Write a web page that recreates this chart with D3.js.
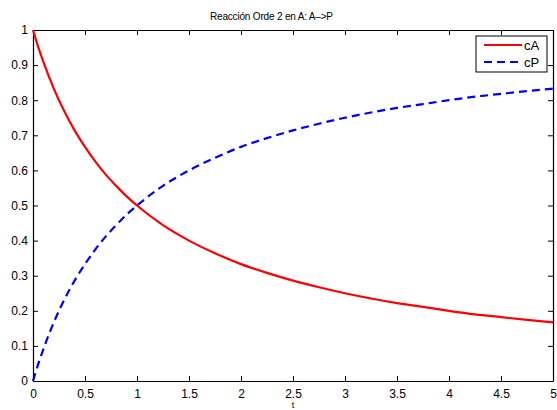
<!DOCTYPE html>
<html>
<head>
<meta charset="utf-8">
<script src="https://cdn.jsdelivr.net/npm/d3@7"></script>
<style>
  body { margin: 0; background: #fff; }
  svg { font-family: 'Liberation Sans', Arial, sans-serif; }
</style>
</head>
<body>
<svg width="557" height="410"></svg>
<script>
const title = 'Reacción Orde 2 en A: A–>P'
const xLabel = 't'
const tValues = [0, 0.05, 0.1, 0.2, 0.3, 0.4, 0.5, 0.6, 0.7, 0.8, 0.9, 1, 1.25, 1.5, 1.75, 2, 2.25, 2.5, 2.75, 3, 3.25, 3.5, 3.75, 4, 4.25, 4.5, 4.75, 5]
const cA = [1, 0.952, 0.909, 0.833, 0.769, 0.714, 0.667, 0.625, 0.588, 0.556, 0.526, 0.5, 0.444, 0.4, 0.364, 0.333, 0.308, 0.286, 0.267, 0.25, 0.235, 0.222, 0.211, 0.2, 0.19, 0.182, 0.174, 0.167]
const cP = [0, 0.048, 0.091, 0.167, 0.231, 0.286, 0.333, 0.375, 0.412, 0.444, 0.474, 0.5, 0.556, 0.6, 0.636, 0.667, 0.692, 0.714, 0.733, 0.75, 0.765, 0.778, 0.789, 0.8, 0.81, 0.818, 0.826, 0.833]
const xTicks = [0, 0.5, 1, 1.5, 2, 2.5, 3, 3.5, 4, 4.5, 5]
const yTicks = [0, 0.1, 0.2, 0.3, 0.4, 0.5, 0.6, 0.7, 0.8, 0.9, 1]
const series = [
  { name: 'cA', values: cA, color: '#ff0000', dash: null },
  { name: 'cP', values: cP, color: '#0000ff', dash: '8,5' }
]

const svg = d3.select('svg')
const margin = { top: 30, right: 4, bottom: 29, left: 33 }
const width = +svg.attr('width') - margin.left - margin.right
const height = +svg.attr('height') - margin.top - margin.bottom

const x = d3.scaleLinear().domain([0, 5]).range([0, width])
const y = d3.scaleLinear().domain([0, 1]).range([height, 0])

const g = svg.append('g')
  .attr('transform', 'translate(' + margin.left + ',' + margin.top + ')')

const fmt = (d) => d3.format('')(d)

// bottom and left axes, ticks pointing inward
g.append('g')
  .attr('transform', 'translate(0,' + height + ')')
  .call(d3.axisBottom(x).tickValues(xTicks).tickFormat(fmt).tickSizeInner(-5).tickSizeOuter(0).tickPadding(8))
g.append('g')
  .call(d3.axisLeft(y).tickValues(yTicks).tickFormat(fmt).tickSizeInner(-5).tickSizeOuter(0).tickPadding(5))
// top and right mirror axes
g.append('g')
  .call(d3.axisTop(x).tickValues(xTicks).tickFormat('').tickSizeInner(-5).tickSizeOuter(0))
g.append('g')
  .attr('transform', 'translate(' + width + ',0)')
  .call(d3.axisRight(y).tickValues(yTicks).tickFormat('').tickSizeInner(-5).tickSizeOuter(0))

g.selectAll('.domain').attr('stroke', '#000').attr('stroke-width', 1.2)
g.selectAll('.tick line').attr('stroke', '#000')
g.selectAll('.tick text').attr('fill', '#000').attr('font-size', 12).attr('font-family', 'Liberation Sans, Arial, sans-serif')

const line = (vals) => d3.line()
  .x((d, i) => x(tValues[i]))
  .y((d) => y(d))
  .curve(d3.curveMonotoneX)(vals)

series.forEach((s) => {
  g.append('path')
    .attr('d', line(s.values))
    .attr('fill', 'none')
    .attr('stroke', s.color)
    .attr('stroke-width', 2.2)
    .attr('stroke-dasharray', s.dash)
})

// title and x label
svg.append('text')
  .attr('x', 271.5)
  .attr('y', 20)
  .attr('text-anchor', 'middle')
  .attr('font-size', 10)
  .attr('textLength', 123)
  .attr('lengthAdjust', 'spacing')
  .text(title)
svg.append('text')
  .attr('x', margin.left + width / 2)
  .attr('y', 408)
  .attr('text-anchor', 'middle')
  .attr('font-size', 9)
  .text(xLabel)

// legend
const legend = svg.append('g').attr('transform', 'translate(476,36)')
legend.append('rect')
  .attr('width', 71).attr('height', 36)
  .attr('fill', '#fff').attr('stroke', '#000').attr('stroke-width', 1)
series.forEach((s, i) => {
  const ly = 9 + i * 17
  legend.append('line')
    .attr('x1', 8).attr('x2', 46).attr('y1', ly).attr('y2', ly)
    .attr('stroke', s.color).attr('stroke-width', 2.2)
    .attr('stroke-dasharray', s.dash)
  legend.append('text')
    .attr('x', 48).attr('y', ly + 5)
    .attr('font-size', 13)
    .text(s.name)
})
</script>
</body>
</html>
